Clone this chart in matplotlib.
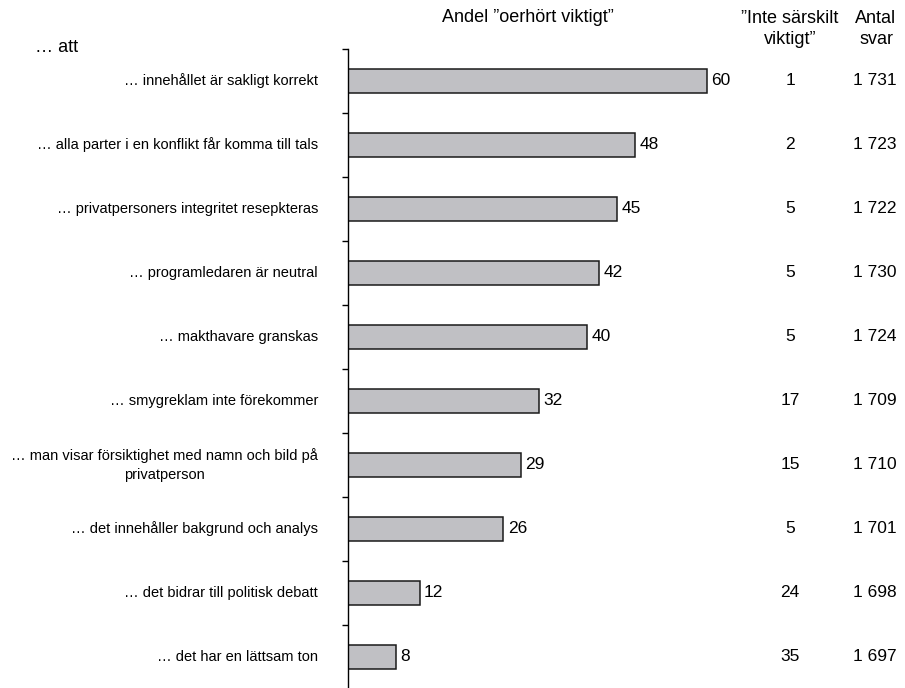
import numpy as np
import matplotlib.pyplot as plt
from matplotlib.transforms import blended_transform_factory

plt.rcParams['font.family'] = ['Liberation Sans', 'DejaVu Sans']

# Data
categories = [
    "… innehållet är sakligt korrekt",
    "… alla parter i en konflikt får komma till tals",
    "… privatpersoners integritet resepkteras",
    "… programledaren är neutral",
    "… makthavare granskas",
    "… smygreklam inte förekommer",
    "… man visar försiktighet med namn och bild på\nprivatperson",
    "… det innehåller bakgrund och analys",
    "… det bidrar till politisk debatt",
    "… det har en lättsam ton",
]
very_important = [60, 48, 45, 42, 40, 32, 29, 26, 12, 8]
not_important = [1, 2, 5, 5, 5, 17, 15, 5, 24, 35]
n_answers = ["1 731", "1 723", "1 722", "1 730", "1 724", "1 709", "1 710", "1 701", "1 698", "1 697"]

W, H = 905, 688
fig = plt.figure(figsize=(W / 100, H / 100), dpi=100)

# axes: left spine at x=348px, top at y=49px, 64px per category
ax_left = 348 / W
ax_top = 49
ax_h = 64 * len(categories)
ax = fig.add_axes([ax_left, 1 - (ax_top + ax_h) / H, 1 - ax_left, ax_h / H])

px_per_unit = 5.98
y = np.arange(len(categories))
ax.barh(y, very_important, height=0.39, color="#c0c0c4", edgecolor="#1a1a1a", linewidth=1.1)

ax.set_xlim(0, (W - 348) / px_per_unit)
ax.set_ylim(len(categories) - 0.5, -0.5)

for s in ["top", "right", "bottom"]:
    ax.spines[s].set_visible(False)
ax.spines["left"].set_linewidth(1.0)
ax.set_xticks([])
ax.set_yticks(np.arange(len(categories) + 1) - 0.5)
ax.set_yticklabels([])
ax.tick_params(axis="y", direction="out", length=4, width=1.0)

# value labels at bar ends
for yi, v in zip(y, very_important):
    ax.text(v + 0.7, yi, str(v), va="center", ha="left", fontsize=12.5)

# category labels
trans = blended_transform_factory(fig.transFigure, ax.transData)
for yi, cat in zip(y, categories):
    ax.text(318 / W, yi, cat, transform=trans, ha="right", va="center",
            multialignment="center", fontsize=10.5, linespacing=1.45)

# right-hand columns
for yi, ni, na in zip(y, not_important, n_answers):
    ax.text(790 / W, yi, str(ni), transform=trans, ha="center", va="center", fontsize=12.5)
    ax.text(875 / W, yi, na, transform=trans, ha="center", va="center", fontsize=12.5)

# headers
fig.text(528 / W, 1 - 18 / H, 'Andel ”oerhört viktigt”', ha="center", va="center", fontsize=13)
fig.text(790 / W, 1 - 29 / H, '”Inte särskilt\nviktigt”', ha="center", va="center", fontsize=13,
         linespacing=1.35)
fig.text(876 / W, 1 - 29 / H, 'Antal\nsvar', ha="center", va="center", fontsize=13,
         linespacing=1.35)
fig.text(35 / W, 1 - 47 / H, "… att", ha="left", va="center", fontsize=13)

fig.savefig("out.png", dpi=100)
